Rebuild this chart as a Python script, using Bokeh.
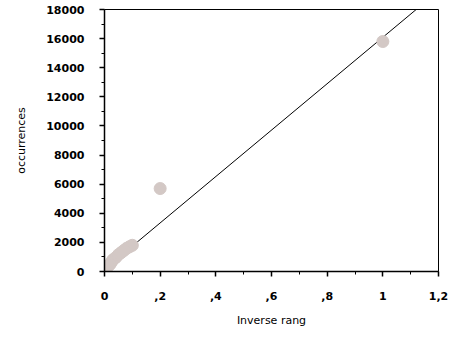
from bokeh.plotting import figure
from bokeh.models import Range1d, FixedTicker, CustomJSTickFormatter, ColumnDataSource
from bokeh.embed import file_html
from bokeh.resources import INLINE

# data
inv_rank = [1.0, 0.2, 0.1, 0.09, 0.08, 0.07, 0.06, 0.05, 0.04, 0.03, 0.025, 0.02, 0.015]
occurrences = [15800, 5700, 1800, 1700, 1600, 1450, 1300, 1150, 950, 800, 650, 500, 400]

fit_slope = 15940
fit_intercept = 150
fit_x = [0.0, 1.2]

x_ticks = [0, 0.2, 0.4, 0.6, 0.8, 1.0, 1.2]
x_tick_labels = ["0", ",2", ",4", ",6", ",8", "1", "1,2"]
x_minor = [0.1, 0.3, 0.5, 0.7, 0.9, 1.1]
y_ticks = [0, 2000, 4000, 6000, 8000, 10000, 12000, 14000, 16000, 18000]
y_minor = [1000, 3000, 5000, 7000, 9000, 11000, 13000, 15000, 17000]

p = figure(width=458, height=337, output_backend="svg", toolbar_location=None,
           x_range=Range1d(0, 1.2), y_range=Range1d(0, 18000),
           min_border_left=104, min_border_right=20, min_border_top=9, min_border_bottom=66)
p.background_fill_color = "white"
p.border_fill_color = "white"
p.outline_line_color = "black"
p.outline_line_width = 1
p.grid.visible = False

fit_y = [fit_intercept + fit_slope * x for x in fit_x]
p.line(fit_x, fit_y, line_color="black", line_width=1)

src = ColumnDataSource(dict(x=inv_rank, y=occurrences))
p.scatter("x", "y", source=src, size=12, fill_color="#d3c8c5", line_color="#d3c8c5")

font = "DejaVu Sans"
p.xaxis.ticker = FixedTicker(ticks=x_ticks, minor_ticks=x_minor)
p.xaxis.formatter = CustomJSTickFormatter(args=dict(tv=x_ticks, tl=x_tick_labels), code="""
const i = tv.findIndex(t => Math.abs(t - tick) < 1e-9);
return i >= 0 ? tl[i] : '';
""")
p.yaxis.ticker = FixedTicker(ticks=y_ticks, minor_ticks=y_minor)

for ax in (p.xaxis[0], p.yaxis[0]):
    ax.axis_line_color = "black"
    ax.axis_line_width = 1.5
    ax.major_tick_line_color = "black"
    ax.minor_tick_line_color = "black"
    ax.major_tick_line_width = 1.5
    ax.major_tick_in = 0
    ax.major_tick_out = 5
    ax.minor_tick_in = 0
    ax.minor_tick_out = 3
    ax.major_label_text_font = font
    ax.major_label_text_font_size = "11px"
    ax.major_label_text_font_style = "bold"
    ax.major_label_text_color = "black"
    ax.axis_label_text_font = font
    ax.axis_label_text_font_size = "11px"
    ax.axis_label_text_font_style = "normal"
    ax.axis_label_text_color = "black"

p.xaxis.major_label_standoff = 15
p.yaxis.major_label_standoff = 15
p.xaxis.axis_label = "Inverse rang"
p.yaxis.axis_label = "occurrences"
p.xaxis.axis_label_standoff = 11
p.yaxis.axis_label_standoff = 15

open("out.html", "w").write(file_html(p, INLINE))
